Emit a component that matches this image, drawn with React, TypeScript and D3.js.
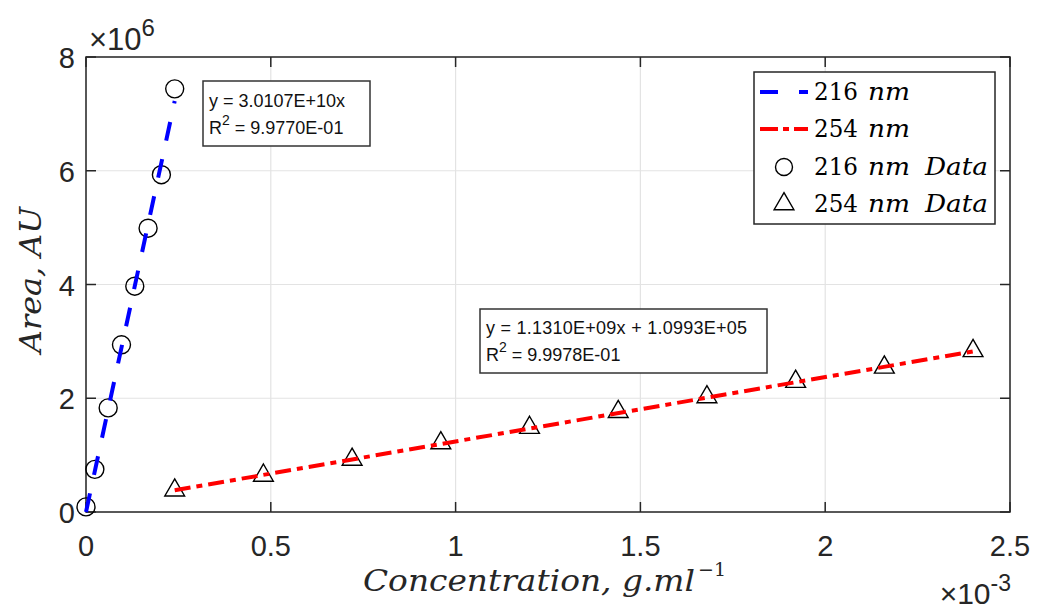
import React from "react";
import * as d3 from "d3";

const conc216: number[] = [0, 0.024e-3, 0.06e-3, 0.096e-3, 0.132e-3, 0.168e-3, 0.204e-3, 0.24e-3];
const area216: number[] = [0.09e6, 0.75e6, 1.83e6, 2.94e6, 3.97e6, 4.99e6, 5.93e6, 7.44e6];
const conc254: number[] = [0.24e-3, 0.48e-3, 0.72e-3, 0.96e-3, 1.2e-3, 1.44e-3, 1.68e-3, 1.92e-3, 2.16e-3, 2.4e-3];
const area254: number[] = [0.40e6, 0.66e6, 0.94e6, 1.23e6, 1.50e6, 1.78e6, 2.04e6, 2.31e6, 2.56e6, 2.85e6];
const fit216 = { slope: 3.0107e10, intercept: 0, x0: 0, x1: 0.24e-3 };
const fit254 = { slope: 1.131e9, intercept: 1.0993e5, x0: 0.24e-3, x1: 2.4e-3 };
const xTicks: number[] = [0, 0.5e-3, 1e-3, 1.5e-3, 2e-3, 2.5e-3];
const xTickLabels: string[] = ["0", "0.5", "1", "1.5", "2", "2.5"];
const yTicks: number[] = [0, 2e6, 4e6, 6e6, 8e6];
const yTickLabels: string[] = ["0", "2", "4", "6", "8"];
const eq216: string[] = ["y = 3.0107E+10x", "9.9770E-01"];
const eq254: string[] = ["y = 1.1310E+09x + 1.0993E+05", "9.9978E-01"];
const legendNums: string[] = ["216", "254", "216", "254"];

const W = 1037, H = 612;
const L = 86, R = 1010, T = 57, B = 512;
const AX = "#262626";
const SANS = "'Liberation Sans', Arial, sans-serif";
const SERIF = "'DejaVu Serif', serif";

export default function App() {
  const x = d3.scaleLinear().domain([0, 2.5e-3]).range([L, R]);
  const y = d3.scaleLinear().domain([0, 8e6]).range([B, T]);
  const line = d3.line<[number, number]>().x(d => x(d[0])).y(d => y(d[1]));
  const l216 = line([[fit216.x0, fit216.intercept + fit216.slope * fit216.x0], [fit216.x1, fit216.intercept + fit216.slope * fit216.x1]]);
  const l254 = line([[fit254.x0, fit254.intercept + fit254.slope * fit254.x0], [fit254.x1, fit254.intercept + fit254.slope * fit254.x1]]);
  const tri = d3.symbol().type(d3.symbolTriangle).size(170)();
  const tickLen = 10;
  const fs = 29;
  const rows = [100, 137, 175, 212];
  return (
    <svg width={W} height={H} style={{ position: "absolute", left: 0, top: 0, background: "#fff" }}>
      <rect x={0} y={0} width={W} height={H} fill="#fff" />
      {xTicks.map((t, i) => (
        <line key={"gx" + i} x1={x(t)} x2={x(t)} y1={T} y2={B} stroke="#e3e3e3" strokeWidth={1.2} />
      ))}
      {yTicks.map((t, i) => (
        <line key={"gy" + i} x1={L} x2={R} y1={y(t)} y2={y(t)} stroke="#e3e3e3" strokeWidth={1.2} />
      ))}
      {xTicks.map((t, i) => (
        <g key={"tx" + i}>
          <line x1={x(t)} x2={x(t)} y1={B} y2={B - tickLen} stroke={AX} strokeWidth={1.5} />
          <line x1={x(t)} x2={x(t)} y1={T} y2={T + tickLen} stroke={AX} strokeWidth={1.5} />
          <text x={x(t)} y={556} fontFamily={SANS} fontSize={fs} fill={AX} textAnchor="middle">{xTickLabels[i]}</text>
        </g>
      ))}
      {yTicks.map((t, i) => (
        <g key={"ty" + i}>
          <line x1={L} x2={L + tickLen} y1={y(t)} y2={y(t)} stroke={AX} strokeWidth={1.5} />
          <line x1={R} x2={R - tickLen} y1={y(t)} y2={y(t)} stroke={AX} strokeWidth={1.5} />
          <text x={75} y={y(t) + 11} fontFamily={SANS} fontSize={fs} fill={AX} textAnchor="end">{yTickLabels[i]}</text>
        </g>
      ))}
      <rect x={L} y={T} width={R - L} height={B - T} fill="none" stroke={AX} strokeWidth={1.5} />
      <text x={89} y={50} fontFamily={SANS} fontSize={31} fill={AX}>×10<tspan dy={-14} fontSize={24}>6</tspan></text>
      <text x={1011} y={604} fontFamily={SANS} fontSize={30} fill={AX} textAnchor="end">×10<tspan dy={-13} fontSize={23}>-3</tspan></text>
      {conc216.map((c, i) => (
        <circle key={"c" + i} cx={x(c)} cy={y(area216[i])} r={9} fill="none" stroke="#000" strokeWidth={1.4} />
      ))}
      {conc254.map((c, i) => (
        <path key={"t" + i} d={tri as string} transform={`translate(${x(c)},${y(area254[i]) + 1})`} fill="none" stroke="#000" strokeWidth={1.4} />
      ))}
      <path d={l216 as string} stroke="#0000ff" strokeWidth={4} strokeDasharray="19 19" fill="none" />
      <path d={l254 as string} stroke="#ff0000" strokeWidth={4} strokeDasharray="16 6 6 6" fill="none" />
      <rect x={203} y={81} width={167} height={65} fill="#fff" stroke="#333" strokeWidth={1.5} />
      <text x={209} y={107} fontFamily={SANS} fontSize={18} fill="#111">{eq216[0]}</text>
      <text x={209} y={134} fontFamily={SANS} fontSize={18} fill="#111">R<tspan dy={-9} fontSize={14}>2</tspan><tspan dy={9}> = {eq216[1]}</tspan></text>
      <rect x={480} y={309} width={287} height={64} fill="#fff" stroke="#333" strokeWidth={1.5} />
      <text x={486} y={334} fontFamily={SANS} fontSize={18} textLength={261} lengthAdjust="spacing" fill="#111">{eq254[0]}</text>
      <text x={486} y={361} fontFamily={SANS} fontSize={18} fill="#111">R<tspan dy={-9} fontSize={14}>2</tspan><tspan dy={9}> = {eq254[1]}</tspan></text>
      <rect x={754} y={72} width={241} height={152} fill="#fff" stroke={AX} strokeWidth={1.5} />
      <line x1={760} x2={808} y1={92} y2={92} stroke="#0000ff" strokeWidth={4} strokeDasharray="18 21" />
      <line x1={760} x2={808} y1={129} y2={129} stroke="#ff0000" strokeWidth={4} strokeDasharray="18 5 6 5" />
      <circle cx={784} cy={167} r={8.5} fill="none" stroke="#000" strokeWidth={1.4} />
      <path d={tri as string} transform="translate(784,204)" fill="none" stroke="#000" strokeWidth={1.4} />
      {rows.map((ry, i) => (
        <g key={"lg" + i}>
          <text x={814} y={ry} fontFamily={SERIF} fontSize={24} fill="#000" textLength={44} lengthAdjust="spacingAndGlyphs">{legendNums[i]}</text>
          <text x={868} y={ry} fontFamily={SERIF} fontSize={24} fontStyle="italic" fill="#000" textLength={42} lengthAdjust="spacingAndGlyphs">nm</text>
          {i >= 2 && (
            <text x={925} y={ry} fontFamily={SERIF} fontSize={24} fontStyle="italic" fill="#000" textLength={63} lengthAdjust="spacingAndGlyphs">Data</text>
          )}
        </g>
      ))}
      <text x={363} y={591} fontFamily={SERIF} fontSize={29} fontStyle="italic" fill={AX} textLength={332} lengthAdjust="spacingAndGlyphs">Concentration, g.ml</text>
      <text x={698} y={576} fontFamily={SERIF} fontSize={19} fill={AX}>−1</text>
      <text transform="translate(41,280) rotate(-90)" fontFamily={SERIF} fontSize={29} fontStyle="italic" fill={AX} textAnchor="middle" textLength={146} lengthAdjust="spacingAndGlyphs">Area, AU</text>
    </svg>
  );
}
